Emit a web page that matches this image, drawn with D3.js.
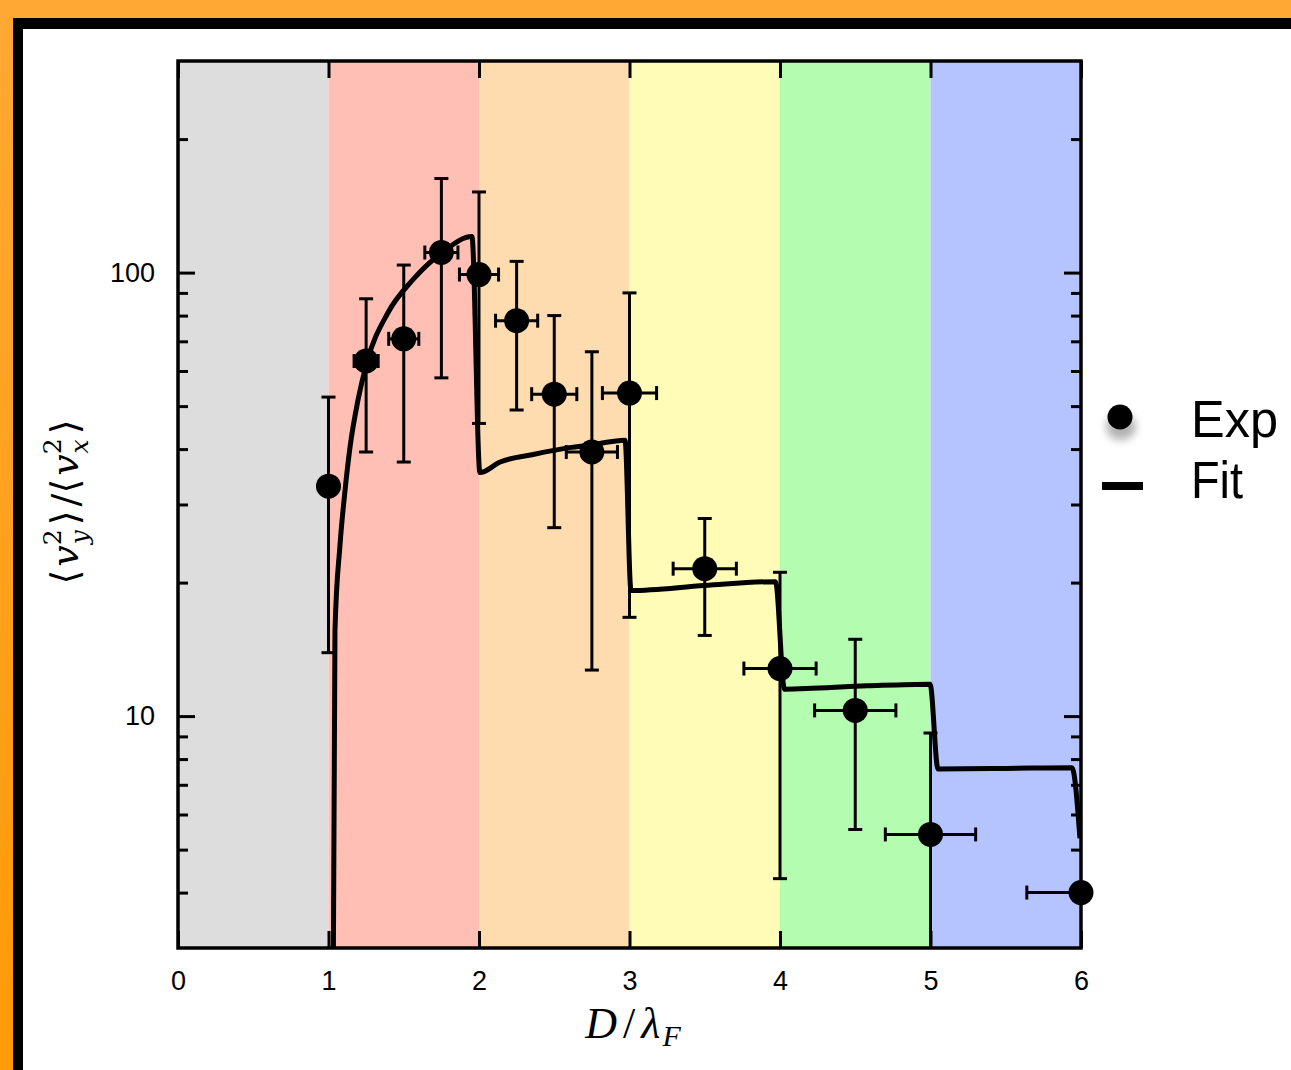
<!DOCTYPE html>
<html>
<head>
<meta charset="utf-8">
<script src="https://cdn.jsdelivr.net/npm/d3@7"></script>
<style>
    body { margin: 0; background: #fff; }
    svg { display: block; }
</style>
</head>
<body>
<div id="chart"></div>
<script>
// velocity ratio vs D/lambda_F, log y axis, coloured bands per mode count

// bands
const bandStart = [0, 1, 2, 3, 4, 5];
const bandColors = ['#dddddd', '#ffbfb5', '#fedcb0', '#fffcb7', '#b3fcb0', '#b5c4ff'];

// experimental points
const expX = [1.0, 1.25, 1.5, 1.75, 2.0, 2.25, 2.5, 2.75, 3.0, 3.5, 4.0, 4.5, 5.0, 6.0];
const expY = [33.0, 63.2, 70.9, 111, 99, 77.9, 53.2, 39.4, 53.5, 21.5, 12.8, 10.3, 5.41, 4.0];
const expLow = [13.9, 39.4, 37.4, 57.9, 45.7, 49, 26.6, 12.7, 16.7, 15.2, 4.3, 5.55, 2.5, 4.0];
const expHigh = [52.4, 87.3, 104, 163, 152, 106, 80, 66.3, 90, 27.9, 21.1, 14.9, 9.16, 4.0];
const expXErr = [0, 0.08, 0.1, 0.11, 0.13, 0.14, 0.15, 0.17, 0.18, 0.21, 0.24, 0.27, 0.3, 0.36];

// fit curve
const fitX = [1.03, 1.043, 1.076, 1.11, 1.143, 1.196, 1.256, 1.395, 1.561, 1.754, 1.953,
    2.006, 2.14, 2.36, 2.6, 2.75, 2.97,
    3.01, 3.5, 3.97,
    4.03, 4.58, 4.997,
    5.05, 5.5, 5.94, 5.993];
const fitY = [2.0, 15.6, 24.2, 32.3, 40.4, 51.6, 62.9, 81.2, 96.4, 110.9, 120.6,
    35.4, 37.4, 38.9, 40.3, 40.9, 41.9,
    19.2, 19.7, 20.1,
    11.5, 11.7, 11.8,
    7.6, 7.62, 7.65, 5.3];

const xTicks = [0, 1, 2, 3, 4, 5, 6];
const yMajor = [10, 100];
const yMinor = [4, 5, 6, 7, 8, 9, 20, 30, 40, 50, 60, 70, 80, 90, 200];

const W = 1291, H = 1070;
const plot = {left: 178, right: 1081, top: 61, bottom: 948};

const x = d3.scaleLinear().domain([0, 6]).range([plot.left, plot.right]);
const y = d3.scaleLog().domain([3, 300]).range([plot.bottom, plot.top]);

const svg = d3.select('#chart')
    .append('svg')
    .attr('width', W)
    .attr('height', H);

const defs = svg.append('defs');
const grad = defs.append('linearGradient')
    .attr('id', 'orange')
    .attr('x1', 0).attr('y1', 0).attr('x2', 0).attr('y2', 1);
grad.append('stop').attr('offset', '0%').attr('stop-color', '#ffa833');
grad.append('stop').attr('offset', '100%').attr('stop-color', '#ff9a08');

defs.append('clipPath')
    .attr('id', 'clip')
    .append('rect')
    .attr('x', plot.left)
    .attr('y', plot.top)
    .attr('width', plot.right - plot.left)
    .attr('height', plot.bottom - plot.top);

defs.append('filter')
    .attr('id', 'blur')
    .attr('x', '-50%').attr('y', '-50%').attr('width', '200%').attr('height', '200%')
    .append('feGaussianBlur')
    .attr('stdDeviation', 4);

// slide frame
svg.append('rect').attr('width', W).attr('height', H).attr('fill', 'url(#orange)');
svg.append('rect').attr('x', 13).attr('y', 18).attr('width', W - 13).attr('height', H - 18).attr('fill', '#000');
svg.append('rect').attr('x', 23).attr('y', 29).attr('width', W - 23).attr('height', H - 29).attr('fill', '#fff');

// bands
svg.append('g')
    .selectAll('rect')
    .data(bandStart)
    .join('rect')
    .attr('x', d => x(d))
    .attr('y', plot.top)
    .attr('width', d => x(d + 1) - x(d))
    .attr('height', plot.bottom - plot.top)
    .attr('fill', (d, i) => bandColors[i]);

// axes, ticks pointing inward on all four sides
function styleAxis(g) {
    g.select('.domain').remove();
    g.selectAll('.tick line').attr('stroke', '#000').attr('stroke-width', 3);
    g.selectAll('.tick text')
        .attr('fill', '#000')
        .style('font-family', '"Liberation Sans", Arial, Helvetica, sans-serif')
        .style('font-size', '27px');
}

svg.append('g')
    .attr('transform', `translate(0,${plot.bottom})`)
    .call(d3.axisBottom(x).tickValues(xTicks).tickSizeInner(-17).tickSizeOuter(0).tickFormat(d3.format('d')))
    .call(styleAxis)
    .call(g => g.selectAll('.tick text').attr('y', 42).attr('dy', null));

svg.append('g')
    .attr('transform', `translate(0,${plot.top})`)
    .call(d3.axisTop(x).tickValues(xTicks).tickSizeInner(-17).tickSizeOuter(0).tickFormat(''))
    .call(styleAxis);

svg.append('g')
    .attr('transform', `translate(${plot.left},0)`)
    .call(d3.axisLeft(y).tickValues(yMajor).tickSizeInner(-17).tickSizeOuter(0).tickPadding(23).tickFormat(d3.format('d')))
    .call(styleAxis);

svg.append('g')
    .attr('transform', `translate(${plot.left},0)`)
    .call(d3.axisLeft(y).tickValues(yMinor).tickSizeInner(-10).tickSizeOuter(0).tickFormat(''))
    .call(styleAxis);

svg.append('g')
    .attr('transform', `translate(${plot.right},0)`)
    .call(d3.axisRight(y).tickValues(yMajor).tickSizeInner(-17).tickSizeOuter(0).tickFormat(''))
    .call(styleAxis);

svg.append('g')
    .attr('transform', `translate(${plot.right},0)`)
    .call(d3.axisRight(y).tickValues(yMinor).tickSizeInner(-10).tickSizeOuter(0).tickFormat(''))
    .call(styleAxis);

// fit line
const fitData = fitX.map((d, i) => [d, fitY[i]]);
svg.append('path')
    .datum(fitData)
    .attr('clip-path', 'url(#clip)')
    .attr('fill', 'none')
    .attr('stroke', '#000')
    .attr('stroke-width', 5)
    .attr('stroke-linejoin', 'round')
    .attr('d', d3.line().x(d => x(d[0])).y(d => y(d[1])).curve(d3.curveMonotoneX));

// error bars
const expData = expX.map((d, i) => ({
    x: d, y: expY[i], lo: expLow[i], hi: expHigh[i], dx: expXErr[i]
}));
const cap = 7;
const err = svg.append('g')
    .attr('clip-path', 'url(#clip)')
    .attr('stroke', '#000')
    .attr('stroke-width', 3)
    .selectAll('g')
    .data(expData)
    .join('g');

err.filter(d => d.hi > d.lo).each(function (d) {
    const g = d3.select(this);
    g.append('line').attr('x1', x(d.x)).attr('x2', x(d.x)).attr('y1', y(d.lo)).attr('y2', y(d.hi));
    g.append('line').attr('x1', x(d.x) - cap).attr('x2', x(d.x) + cap).attr('y1', y(d.lo)).attr('y2', y(d.lo));
    g.append('line').attr('x1', x(d.x) - cap).attr('x2', x(d.x) + cap).attr('y1', y(d.hi)).attr('y2', y(d.hi));
});

err.filter(d => d.dx > 0).each(function (d) {
    const g = d3.select(this);
    g.append('line').attr('x1', x(d.x - d.dx)).attr('x2', x(d.x + d.dx)).attr('y1', y(d.y)).attr('y2', y(d.y));
    g.append('line').attr('x1', x(d.x - d.dx)).attr('x2', x(d.x - d.dx)).attr('y1', y(d.y) - cap).attr('y2', y(d.y) + cap);
    g.append('line').attr('x1', x(d.x + d.dx)).attr('x2', x(d.x + d.dx)).attr('y1', y(d.y) - cap).attr('y2', y(d.y) + cap);
});

// plot frame
svg.append('rect')
    .attr('x', plot.left)
    .attr('y', plot.top)
    .attr('width', plot.right - plot.left)
    .attr('height', plot.bottom - plot.top)
    .attr('fill', 'none')
    .attr('stroke', '#000')
    .attr('stroke-width', 3.5);

// points (not clipped)
svg.append('g')
    .selectAll('circle')
    .data(expData)
    .join('circle')
    .attr('cx', d => x(d.x))
    .attr('cy', d => y(d.y))
    .attr('r', 12.5)
    .attr('fill', '#000');

// axis titles
const serif = '"Liberation Serif", "DejaVu Serif", serif';
svg.append('text')
    .attr('x', 633)
    .attr('y', 1038)
    .attr('text-anchor', 'middle')
    .style('font-family', serif)
    .style('font-size', '44px')
    .call(t => {
        t.append('tspan').style('font-style', 'italic').text('D');
        t.append('tspan').attr('dx', 6).text('/');
        t.append('tspan').attr('dx', 6).style('font-style', 'italic').text('λ');
        t.append('tspan').attr('dx', 2).style('font-style', 'italic').style('font-size', '30px').attr('dy', 8).text('F');
    });

const ylab = svg.append('text')
    .attr('transform', 'translate(78,502) rotate(-90)')
    .attr('text-anchor', 'middle')
    .style('font-family', '"DejaVu Serif", "Liberation Serif", serif')
    .style('font-size', '38px');

function bracketTerm(t, sub) {
    t.append('tspan').text('⟨');
    t.append('tspan').attr('dx', 3).style('font-style', 'italic').text('v');
    t.append('tspan').style('font-size', '25px').attr('dy', -17).text('2');
    t.append('tspan').style('font-size', '25px').style('font-style', 'italic').attr('dx', -15).attr('dy', 27).text(sub);
    t.append('tspan').attr('dy', -10).attr('dx', 5).text('⟩');
}
bracketTerm(ylab, 'y');
ylab.append('tspan').attr('dx', 4).text('/');
ylab.append('tspan').attr('dx', 4);
bracketTerm(ylab, 'x');

// legend
const legend = svg.append('g');
legend.append('ellipse')
    .attr('cx', 1121).attr('cy', 427)
    .attr('rx', 15).attr('ry', 13)
    .attr('fill', '#000')
    .attr('opacity', 0.3)
    .attr('filter', 'url(#blur)');
legend.append('circle')
    .attr('cx', 1120).attr('cy', 417).attr('r', 12.5).attr('fill', '#000');
legend.append('line')
    .attr('x1', 1102).attr('x2', 1143)
    .attr('y1', 486).attr('y2', 486)
    .attr('stroke', '#000').attr('stroke-width', 8);

const legendFont = '"Liberation Sans", Arial, Helvetica, sans-serif';
legend.append('text')
    .attr('x', 1191).attr('y', 437)
    .attr('textLength', 87).attr('lengthAdjust', 'spacingAndGlyphs')
    .style('font-family', legendFont).style('font-size', '52px')
    .text('Exp');
legend.append('text')
    .attr('x', 1191).attr('y', 498)
    .attr('textLength', 52).attr('lengthAdjust', 'spacingAndGlyphs')
    .style('font-family', legendFont).style('font-size', '52px')
    .text('Fit');
</script>
</body>
</html>
